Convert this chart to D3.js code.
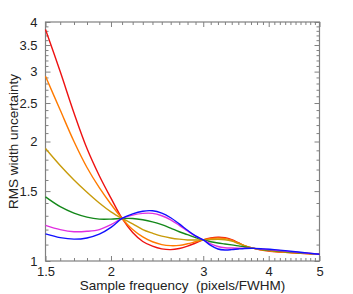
<!DOCTYPE html>
<html lang="en">
<head>
<meta charset="UTF-8">
<title>RMS width uncertainty</title>
<script src="https://d3js.org/d3.v7.min.js"></script>
<style>
  body { margin: 0; background: #fff; }
  svg text { font-family: "Liberation Sans", Arial, sans-serif; fill: #222; }
</style>
</head>
<body>
<script>
// sample frequency (pixels/FWHM)
const xs = [1.5, 1.6, 1.7, 1.8, 1.9, 2.0, 2.1, 2.2, 2.3, 2.4, 2.5, 2.6, 2.7, 2.8, 2.9,
            3.0, 3.1, 3.2, 3.3, 3.4, 3.5, 3.6, 3.75, 3.9, 4.1, 4.3, 4.6, 5.0];

const red     = [3.83, 3.00, 2.36, 1.92, 1.64, 1.44, 1.28, 1.18, 1.12, 1.09, 1.073, 1.068, 1.075, 1.09, 1.11,
                 1.13, 1.143, 1.148, 1.145, 1.132, 1.112, 1.092, 1.076, 1.064, 1.056, 1.051, 1.046, 1.04];
const orange  = [2.92, 2.40, 2.00, 1.72, 1.53, 1.39, 1.28, 1.20, 1.15, 1.118, 1.10, 1.093, 1.095, 1.105, 1.118,
                 1.13, 1.14, 1.143, 1.14, 1.128, 1.11, 1.093, 1.076, 1.065, 1.057, 1.052, 1.046, 1.04];
const gold    = [1.92, 1.74, 1.60, 1.49, 1.40, 1.33, 1.28, 1.24, 1.20, 1.175, 1.155, 1.143, 1.135, 1.13, 1.13,
                 1.13, 1.132, 1.134, 1.131, 1.122, 1.107, 1.092, 1.076, 1.067, 1.059, 1.054, 1.047, 1.04];
const green   = [1.45, 1.37, 1.32, 1.29, 1.275, 1.275, 1.28, 1.28, 1.27, 1.255, 1.235, 1.21, 1.185, 1.165, 1.145,
                 1.13, 1.118, 1.11, 1.104, 1.098, 1.092, 1.085, 1.076, 1.069, 1.062, 1.057, 1.049, 1.04];
const magenta = [1.23, 1.20, 1.185, 1.188, 1.20, 1.235, 1.28, 1.305, 1.318, 1.318, 1.30, 1.27, 1.23, 1.19, 1.155,
                 1.13, 1.105, 1.088, 1.08, 1.078, 1.077, 1.077, 1.076, 1.071, 1.065, 1.059, 1.05, 1.04];
const blue    = [1.17, 1.145, 1.135, 1.143, 1.168, 1.215, 1.28, 1.315, 1.335, 1.338, 1.32, 1.285, 1.24, 1.195, 1.157,
                 1.13, 1.095, 1.072, 1.066, 1.068, 1.072, 1.075, 1.076, 1.073, 1.068, 1.062, 1.052, 1.04];

const seriesList = [
  {name: "red", values: red, color: "#ee1111"},
  {name: "orange", values: orange, color: "#ff7a00"},
  {name: "gold", values: gold, color: "#c89b0a"},
  {name: "green", values: green, color: "#14881a"},
  {name: "magenta", values: magenta, color: "#e030e0"},
  {name: "blue", values: blue, color: "#1010ff"}
];

const xMajor = [1.5, 2, 3, 4, 5];
const yMajor = [1, 1.5, 2, 2.5, 3, 3.5, 4];

let width = 353;
let height = 294;
const margin = {left: 45.5, right: 33.5, top: 22, bottom: 33};

const x = d3.scaleLog().domain([1.5, 5]).range([margin.left, width - margin.right]);
const y = d3.scaleLog().domain([1, 4]).range([height - margin.bottom, margin.top]);

// minor ticks every 0.1
const xMinor = d3.range(15, 51).map(d => d / 10).filter(d => !xMajor.includes(d));
const yMinor = d3.range(10, 41).map(d => d / 10).filter(d => !yMajor.includes(d));

const svg = d3.select("body").append("svg")
  .attr("width", width)
  .attr("height", height);

const fmt = d => String(d);
const axisColor = "#808080";

function styleAxis(g) {
  g.select(".domain").remove();
  g.selectAll(".tick line").attr("stroke", axisColor);
  g.selectAll(".tick text").attr("font-size", 13);
}

const x0 = height - margin.bottom, x1 = margin.top;
const y0 = margin.left, y1 = width - margin.right;

// bottom
svg.append("g").attr("transform", `translate(0,${x0})`)
  .call(d3.axisBottom(x).tickValues(xMinor).tickSize(-3).tickFormat(""))
  .call(styleAxis);
svg.append("g").attr("transform", `translate(0,${x0})`)
  .call(d3.axisBottom(x).tickValues(xMajor).tickSizeInner(-5).tickSizeOuter(0).tickPadding(6).tickFormat(fmt))
  .call(styleAxis);
// top
svg.append("g").attr("transform", `translate(0,${x1})`)
  .call(d3.axisTop(x).tickValues(xMinor).tickSize(-3).tickFormat(""))
  .call(styleAxis);
svg.append("g").attr("transform", `translate(0,${x1})`)
  .call(d3.axisTop(x).tickValues(xMajor).tickSize(-5).tickFormat(""))
  .call(styleAxis);
// left
svg.append("g").attr("transform", `translate(${y0},0)`)
  .call(d3.axisLeft(y).tickValues(yMinor).tickSize(-3).tickFormat(""))
  .call(styleAxis);
svg.append("g").attr("transform", `translate(${y0},0)`)
  .call(d3.axisLeft(y).tickValues(yMajor).tickSizeInner(-5).tickSizeOuter(0).tickPadding(8).tickFormat(fmt))
  .call(styleAxis);
// right
svg.append("g").attr("transform", `translate(${y1},0)`)
  .call(d3.axisRight(y).tickValues(yMinor).tickSize(-3).tickFormat(""))
  .call(styleAxis);
svg.append("g").attr("transform", `translate(${y1},0)`)
  .call(d3.axisRight(y).tickValues(yMajor).tickSize(-5).tickFormat(""))
  .call(styleAxis);

// frame
svg.append("rect")
  .attr("x", y0).attr("y", x1)
  .attr("width", y1 - y0).attr("height", x0 - x1)
  .attr("fill", "none")
  .attr("stroke", axisColor)
  .attr("stroke-width", 1.2);

const line = d3.line()
  .x((d, i) => x(xs[i]))
  .y(d => y(d))
  .curve(d3.curveCatmullRom.alpha(0.5));

svg.append("g").selectAll("path")
  .data(seriesList)
  .join("path")
  .attr("fill", "none")
  .attr("stroke", d => d.color)
  .attr("stroke-width", 1.4)
  .attr("d", d => line(d.values));

// axis titles
svg.append("text")
  .attr("x", (y0 + y1) / 2)
  .attr("y", 290)
  .attr("text-anchor", "middle")
  .attr("font-size", 13.5)
  .attr("xml:space", "preserve")
  .text("Sample frequency  (pixels/FWHM)");

svg.append("text")
  .attr("transform", `translate(18,${(x0 + x1) / 2}) rotate(-90)`)
  .attr("text-anchor", "middle")
  .attr("font-size", 13.5)
  .text("RMS width uncertainty");
</script>
</body>
</html>
